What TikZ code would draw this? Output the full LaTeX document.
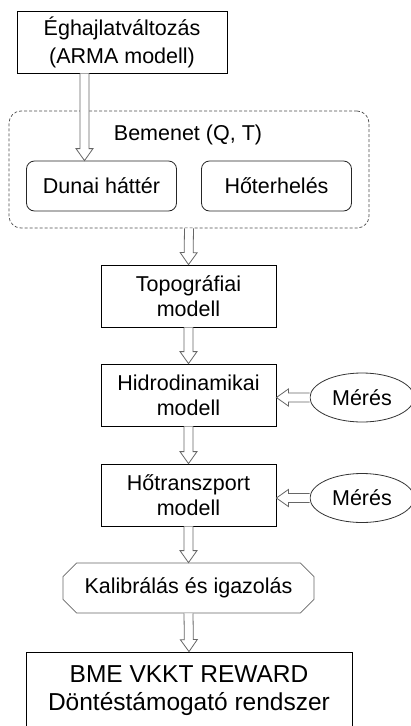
\documentclass[tikz,border=0pt]{standalone}
\usepackage{fontspec}
\setmainfont{Liberation Sans}
\usetikzlibrary{calc,shapes.geometric,shapes.misc}

% hollow block arrow from #1 to #2
\newcommand{\harrow}[2]{%
  \coordinate (hb) at ($(#2)!12pt!(#1)$);
  \draw[arr] ($(#1)!4.5pt!90:(#2)$) -- ($(hb)!4.5pt!90:(#2)$) -- ($(hb)!8.5pt!90:(#2)$)
    -- (#2) -- ($(hb)!8.5pt!-90:(#2)$) -- ($(hb)!4.5pt!-90:(#2)$) -- ($(#1)!4.5pt!-90:(#2)$);
}

\begin{document}
\begin{tikzpicture}[
x=1pt,y=-1pt,
txt/.style={font=\fontsize{21.5}{25}\selectfont},
box/.style={rectangle, draw, line width=0.8pt, minimum width=175pt, minimum height=62pt, inner sep=0pt, align=center, txt},
inbox/.style={rectangle, rounded corners=8pt, draw=black!85, line width=0.8pt, minimum width=150pt, minimum height=50pt, inner sep=0pt, txt},
meas/.style={ellipse, draw=black!80, line width=0.8pt, minimum width=104pt, minimum height=49pt, inner sep=0pt, txt},
arr/.style={draw=black!60, fill=white, line width=0.8pt, line join=miter},
]
\useasboundingbox (0,0) rectangle (411,726);

%input group
\node(bemenet)[rectangle, rounded corners=12pt, draw=black!70, line width=0.7pt, dash pattern=on 3pt off 2pt, minimum width=360pt, minimum height=117pt] at (189,169.5){};
\node(bemlabel)[txt] at (188,135){Bemenet (Q, T)};
\node(dunai)[inbox] at (101.5,186){Dunai háttér};
\node(hoter)[inbox] at (276.5,186){Hőterhelés};

%model chain
\node(clim)[box, minimum width=210pt, font=\fontsize{21.5}{28}\selectfont] at (122,42){Éghajlatváltozás\\(ARMA modell)};
\node(topo)[box] at (188.5,296){Topográfiai\\modell};
\node(hidro)[box] at (188.5,395){Hidrodinamikai\\modell};
\node(hotr)[box] at (188.5,495){Hőtranszport\\modell};
\node(kalib)[chamfered rectangle, chamfered rectangle xsep=12pt, draw=black!60, line width=0.8pt, minimum width=251pt, minimum height=50pt, inner sep=0pt, txt] at (188.5,588){Kalibrálás és igazolás};
\node(bme)[box, minimum width=326pt, minimum height=78pt, font=\fontsize{24.5}{28}\selectfont] at (189,691){BME VKKT REWARD\\Döntéstámogató rendszer};

%measurements
\node(meres1)[meas] at (362,397.5){Mérés};
\node(meres2)[meas] at (362,498){Mérés};

%arrows
\coordinate (c1s) at ([xshift=-37.5pt]clim.south);
\coordinate (c1e) at (c1s |- dunai.north);
\harrow{c1s}{c1e}
\harrow{bemenet.south}{topo.north}
\harrow{topo.south}{hidro.north}
\harrow{hidro.south}{hotr.north}
\harrow{hotr.south}{kalib.north}
\harrow{kalib.south}{bme.north}
\coordinate (m1) at (meres1.west -| hidro.east);
\harrow{meres1.west}{m1}
\coordinate (m2) at (meres2.west -| hotr.east);
\harrow{meres2.west}{m2}

\end{tikzpicture}
\end{document}
